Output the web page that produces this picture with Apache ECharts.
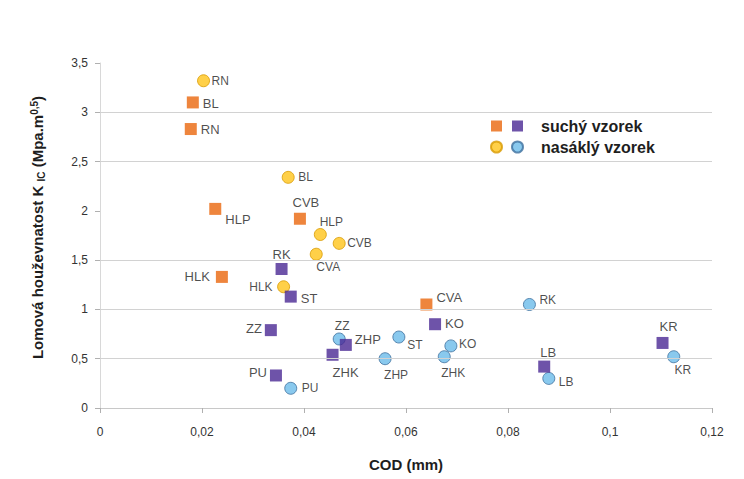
<!DOCTYPE html>
<html><head><meta charset="utf-8">
<script src="https://cdn.jsdelivr.net/npm/echarts@6/dist/echarts.min.js"></script>
<style>html,body{margin:0;padding:0;background:#fff}#c{width:744px;height:479px}</style>
</head><body><div id="c"></div>
<script>
// ---- data ----
const dryOrangeNames = ['BL','RN','HLP','CVB','HLK','CVA'];
const dryOrangeX = [0.0182,0.0178,0.0226,0.0392,0.0239,0.0640];
const dryOrangeY = [3.10,2.83,2.02,1.92,1.33,1.05];

const dryPurpleNames = ['RK','ST','ZZ','ZHP','ZHK','PU','KO','LB','KR'];
const dryPurpleX = [0.0356,0.0374,0.0335,0.0482,0.0456,0.0345,0.0657,0.0871,0.1103];
const dryPurpleY = [1.41,1.13,0.79,0.64,0.54,0.33,0.85,0.42,0.66];

const wetYellowNames = ['RN','BL','HLP','CVB','CVA','HLK'];
const wetYellowX = [0.0203,0.0369,0.0432,0.0469,0.0424,0.0360];
const wetYellowY = [3.32,2.34,1.76,1.67,1.56,1.23];

const wetBlueNames = ['ZZ','ST','ZHP','KO','ZHK','PU','RK','LB','KR'];
const wetBlueX = [0.0469,0.0586,0.0559,0.0688,0.0675,0.0374,0.0842,0.0880,0.1125];
const wetBlueY = [0.70,0.72,0.50,0.63,0.52,0.20,1.05,0.30,0.52];

const xTicks = [0,0.02,0.04,0.06,0.08,0.1,0.12];
const yGridLines = [0.5,1,1.5,2.5,3];

const legendDry = 'suchý vzorek';
const legendWet = 'nasáklý vzorek';

// ---- label layout (style only): [dx, dy, align] ----
const labelLayout = {
  orange: {BL:[10,1,'left'],RN:[10,0,'left'],HLP:[10,11,'left'],CVB:[6,-16,'center'],HLK:[-12,0,'right'],CVA:[10,-7,'left']},
  purple: {RK:[0,-15,'center'],ST:[10,2,'left'],ZZ:[-9,-2,'right'],ZHP:[9,-5,'left'],ZHK:[13,18,'center'],PU:[-9,-3,'right'],KO:[10,-1,'left'],LB:[4,-14,'center'],KR:[6,-16,'center']},
  yellow: {RN:[8,0,'left'],BL:[10,0,'left'],HLP:[11,-13,'center'],CVB:[8,0,'left'],CVA:[12,13,'center'],HLK:[-11,0,'right']},
  blue:   {ZZ:[3,-13,'center'],ST:[16,8,'center'],ZHP:[11,16,'center'],KO:[8,-2,'left'],ZHK:[9,16,'center'],PU:[11,0,'left'],RK:[10,-5,'left'],LB:[10,4,'left'],KR:[9,13,'center']}
};

const FONT = 'Liberation Sans, Arial, sans-serif';
const fmt = v => String(+v.toFixed(4)).replace('.', ',');

function build(key, names, xs, ys, fontSize){
  return names.map((n,i)=>{
    const L = labelLayout[key][n];
    return {
      name: n, value: [xs[i], ys[i]],
      label: {show:true, position:'inside', offset:[L[0],L[1]], align:L[2], verticalAlign:'middle',
              formatter:n, color:'#1e1e1e', fontSize:fontSize, fontFamily:FONT}
    };
  });
}

const chart = echarts.init(document.getElementById('c'), null, {renderer:'svg'});
chart.setOption({
  animation:false,
  backgroundColor:'#fff',
  grid:{left:100, right:32, top:63, bottom:71},
  xAxis:{
    type:'value', min:xTicks[0], max:xTicks[xTicks.length-1], interval:0.02,
    name:'COD (mm)', nameLocation:'middle', nameGap:49,
    nameTextStyle:{fontFamily:FONT, fontWeight:'bold', fontSize:15, color:'#1e1e1e'},
    axisLine:{lineStyle:{color:'#c8c8c8'}},
    axisTick:{show:true, length:5, lineStyle:{color:'#b0b0b0'}},
    axisLabel:{formatter:fmt, fontFamily:FONT, fontSize:12, color:'#333', margin:18},
    splitLine:{show:false}
  },
  yAxis:{
    type:'value', min:0, max:3.5, interval:0.5,
    name:'Lomová houževnatost K {sub|IC} (Mpa.m{sup|0,5})', nameLocation:'middle', nameGap:54, nameRotate:90,
    nameTextStyle:{fontFamily:FONT, fontWeight:'bold', fontSize:15, color:'#1e1e1e', padding:[0,0,0,16],
      rich:{sub:{fontFamily:FONT, fontWeight:'bold', fontSize:10, color:'#1e1e1e', verticalAlign:'bottom', padding:[7,0,0,0]},
            sup:{fontFamily:FONT, fontWeight:'bold', fontSize:10, color:'#1e1e1e', verticalAlign:'top', padding:[0,0,7,0]}}},
    axisLine:{show:true, lineStyle:{color:'#d8d8d8'}},
    axisTick:{show:true, length:5, lineStyle:{color:'#b0b0b0'}},
    axisLabel:{formatter:fmt, fontFamily:FONT, fontSize:12, color:'#333', margin:12},
    splitLine:{show:false}
  },
  legend:[
    {data:[legendDry, legendWet], orient:'vertical', left:506, top:113, itemWidth:11, itemHeight:11, itemGap:5,
     textStyle:{fontFamily:FONT, fontWeight:'bold', fontSize:16, color:'#1e1e1e', padding:[0,0,0,13]}},
    {data:[legendDry+' ', legendWet+' '], orient:'vertical', left:485, top:113, itemWidth:11, itemHeight:11, itemGap:5,
     formatter:()=>' ', textStyle:{fontFamily:FONT, fontWeight:'bold', fontSize:16, color:'#1e1e1e'}}
  ],
  series:[
    {name:legendWet+' ', type:'scatter', symbol:'circle', symbolSize:12,
     itemStyle:{color:'#ffc41a', borderColor:'#d89a00', borderWidth:1},
     data:build('yellow', wetYellowNames, wetYellowX, wetYellowY, 12),
     markLine:{silent:true, symbol:'none', label:{show:false}, animation:false,
       lineStyle:{color:'#d2d2d2', type:'solid', width:1},
       data:yGridLines.map(v=>({yAxis:v}))}, z:1},
    {name:legendWet, type:'scatter', symbol:'circle', symbolSize:12,
     itemStyle:{color:'#6cbbea', borderColor:'#3d6f9e', borderWidth:1},
     data:build('blue', wetBlueNames, wetBlueX, wetBlueY, 12), z:2},
    {name:legendDry+' ', type:'scatter', symbol:'rect', symbolSize:12,
     itemStyle:{color:'#ea670c'},
     data:build('orange', dryOrangeNames, dryOrangeX, dryOrangeY, 13), z:3},
    {name:legendDry, type:'scatter', symbol:'rect', symbolSize:12,
     itemStyle:{color:'#4a2894'},
     data:build('purple', dryPurpleNames, dryPurpleX, dryPurpleY, 13), z:4}
  ]
});
</script></body></html>
